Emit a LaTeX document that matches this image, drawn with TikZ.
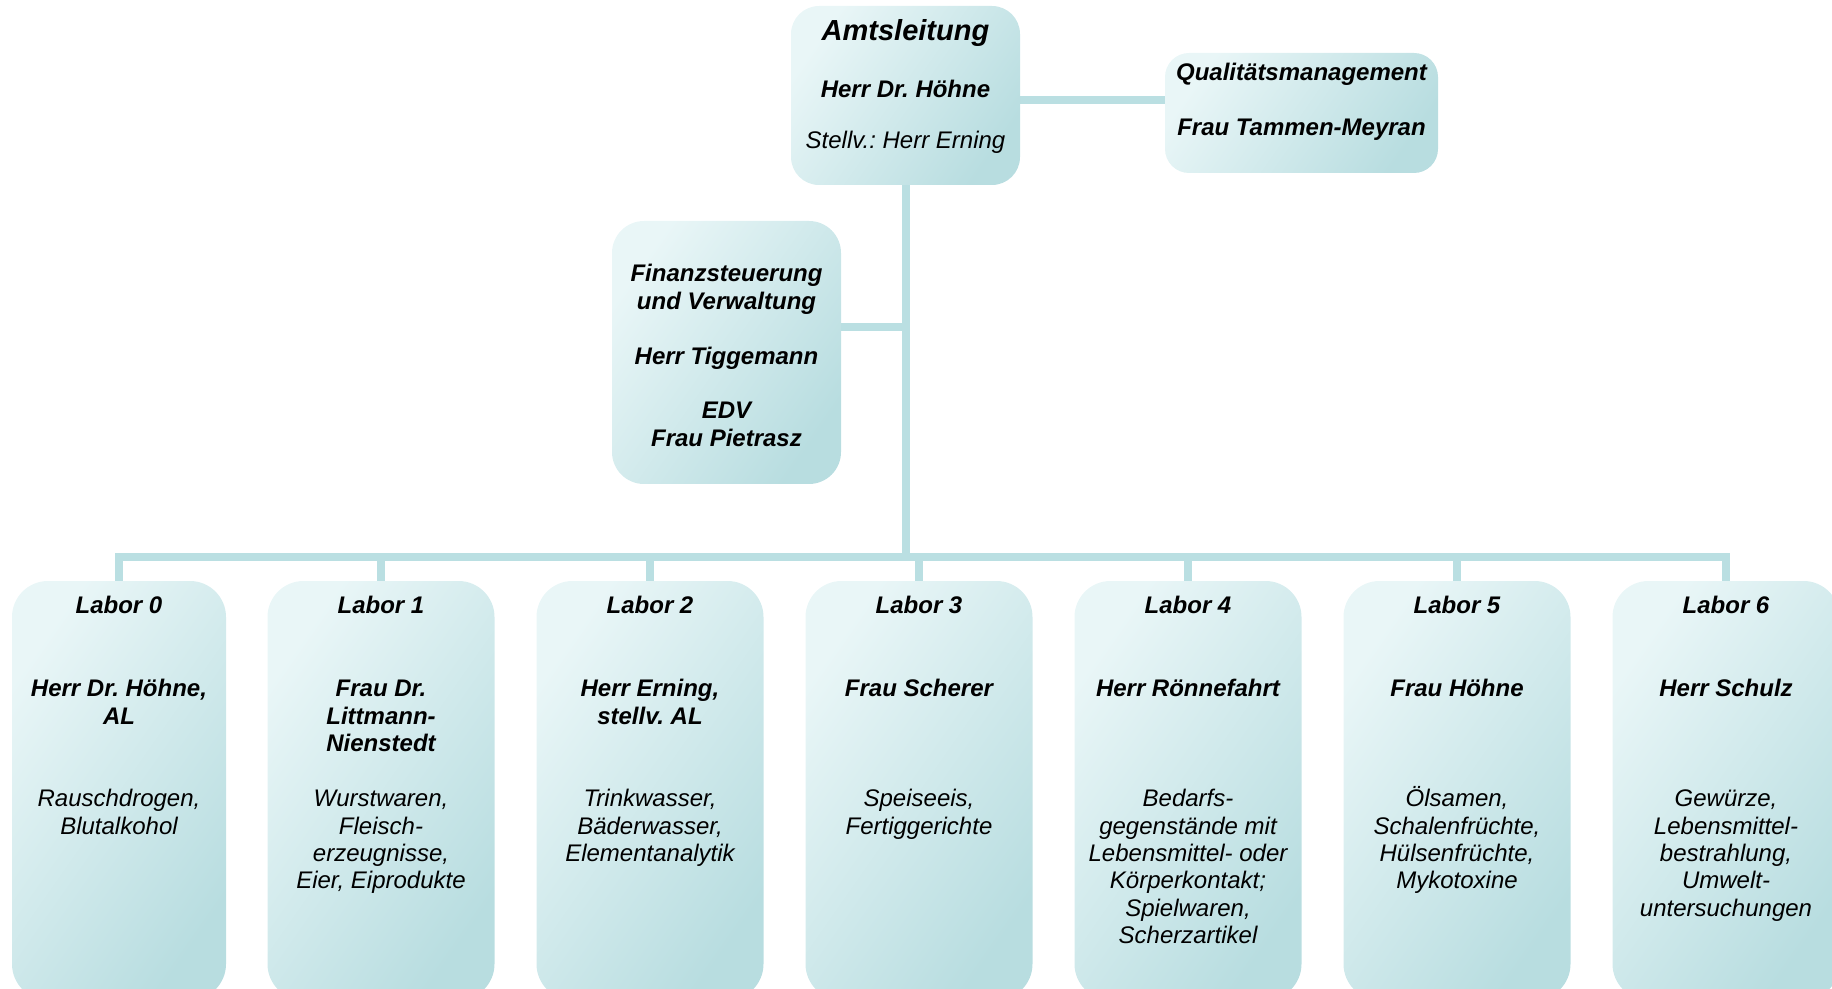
\documentclass[tikz,border=0pt]{standalone}
\usepackage{fontspec}
\setmainfont{Liberation Sans}
\usetikzlibrary{backgrounds}
\frenchspacing

\definecolor{orgline}{RGB}{186,223,226}
\definecolor{orglight}{RGB}{233,246,247}
\definecolor{orgdark}{RGB}{184,221,224}

\newcommand{\tstrut}{\rule{0pt}{12pt}}

\begin{document}
\begin{tikzpicture}[
  x=1pt, y=-1pt,
  every node/.style={inner sep=0pt},
  box/.style={top color=orglight, bottom color=orgdark, shading angle=55,
              rounded corners=14pt},
  lab/.style={box, rounded corners=18pt, minimum height=209.5pt},
  conn/.style={draw=orgline, line width=4pt},
  head/.style={font=\fontsize{12}{13.8}\selectfont\bfseries\itshape,
               align=center, anchor=north},
  sub/.style={font=\fontsize{12}{13.7}\selectfont\itshape,
              align=center, anchor=north},
]
\clip (0,0) rectangle (916,494.5);

% =============================================================== top
\node[box, minimum width=114.5pt, minimum height=89.5pt] (amt) at (452.75,47.75) {};
\node[head, font=\fontsize{14.5}{16}\selectfont\bfseries\itshape] (amt-t) at (452.75,6.2) {\rule{0pt}{14pt}Amtsleitung};
\node[head] (amt-n) at (452.75,36.8) {\tstrut Herr Dr. Höhne};
\node[sub] (amt-s) at (452.75,62.3) {\tstrut Stellv.: Herr Erning};

\node[box, rounded corners=12pt, minimum width=136.5pt, minimum height=60pt] (qm) at (650.75,56.5) {};
\node[head] (qm-t) at (650.75,28.3) {\tstrut Qualitätsmanagement};
\node[head] (qm-n) at (650.75,55.8) {\tstrut Frau Tammen-Meyran};

\node[box, rounded corners=16pt, minimum width=114.5pt, minimum height=131.5pt] (fin) at (363.25,176.25) {};
\node[head, font=\fontsize{12}{14}\selectfont\bfseries\itshape] (fin-t) at (363.25,128.8) {\tstrut Finanzsteuerung\\und Verwaltung};
\node[head] (fin-n) at (363.25,170.3) {\tstrut Herr Tiggemann};
\node[head, font=\fontsize{12}{14}\selectfont\bfseries\itshape] (fin-e) at (363.25,197.3) {\tstrut EDV\\Frau Pietrasz};

% =============================================================== labs
\foreach \i/\x/\w/\nm/\sb in {
    0/59.5/107/{Herr Dr. Höhne,\\AL}/{Rauschdrogen,\\Blutalkohol},
    1/190.5/113.5/{Frau Dr.\\Littmann-\\Nienstedt}/{Wurstwaren,\\Fleisch-\\erzeugnisse,\\Eier, Eiprodukte},
    2/325/113.5/{Herr Erning,\\stellv. AL}/{Trinkwasser,\\Bäderwasser,\\Elementanalytik},
    3/459.5/113.5/{Frau Scherer}/{Speiseeis,\\Fertiggerichte},
    4/594/113.5/{Herr Rönnefahrt}/{Bedarfs-\\gegenstände mit\\Lebensmittel- oder\\Körperkontakt;\\Spielwaren,\\Scherzartikel},
    5/728.5/113.5/{Frau Höhne}/{Ölsamen,\\Schalenfrüchte,\\Hülsenfrüchte,\\Mykotoxine},
    6/863/113.5/{Herr Schulz}/{Gewürze,\\Lebensmittel-\\bestrahlung,\\Umwelt-\\untersuchungen}}
{
  \node[lab, minimum width=\w pt] (lab\i) at (\x,395.25) {};
  \node[head, yshift=-4.3pt] (lab\i-t) at (lab\i.north) {\tstrut Labor \i};
  \node[head, yshift=-45.8pt] (lab\i-n) at (lab\i.north) {\tstrut\nm};
  \node[sub, yshift=-100.8pt] (lab\i-s) at (lab\i.north) {\tstrut\sb};
}

% =============================================================== lines
\coordinate (bus) at (452.75,278.5);
\begin{scope}[on background layer]
  \draw[conn] ([yshift=-2.5pt]amt.east) -- ([yshift=-2.5pt]amt.east -| qm.west);
  \draw[conn] (amt.south) -- (bus);
  \draw[conn] ([yshift=12.75pt]fin.east) -- ([yshift=12.75pt]fin.east -| amt.south);
  \draw[conn] (lab0.north) -- (lab0.north |- bus) -| (lab6.north);
  \foreach \i in {1,...,5}
    \draw[conn] (lab\i.north) -- (lab\i.north |- bus);
\end{scope}

\end{tikzpicture}
\end{document}
